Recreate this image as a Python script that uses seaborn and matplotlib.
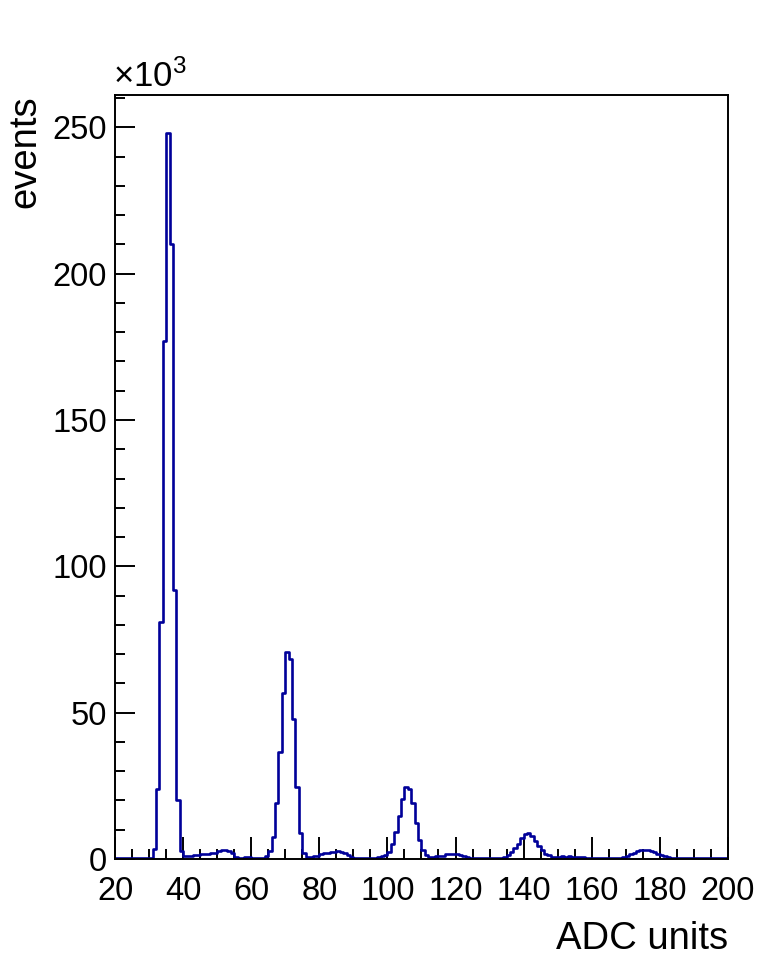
import numpy as np
import pandas as pd
import seaborn as sns
import matplotlib
matplotlib.use("Agg")
import matplotlib.pyplot as plt
from matplotlib.ticker import MultipleLocator

# histogram of ADC spectrum, 1 ADC unit per bin, counts in thousands
adc_low = 20
adc_high = 200
counts_k = [
    0.2, 0.2, 0.2, 0.2, 0.2, 0.2, 0.2, 0.2, 0.2, 0.2,          # 20-29
    0.2, 3.5, 24, 81, 177, 248, 210, 92, 20, 2.8,               # 30-39
    1.0, 1.0, 1.0, 1.4, 1.4, 1.6, 1.8, 1.8, 2.1, 2.2,           # 40-49
    2.6, 3.0, 3.1, 2.6, 1.9, 0.8, 0.5, 0.5, 0.8, 0.8,           # 50-59
    0.5, 0.5, 0.5, 0.4, 1.0, 2.7, 7.6, 19, 36.6, 56.6,          # 60-69
    70.8, 68.2, 47.8, 24.7, 8.8, 1.9, 0.8, 0.8, 1.1, 1.1,       # 70-79
    1.6, 2.2, 2.2, 2.5, 2.5, 2.8, 2.5, 1.9, 1.4, 0.8,           # 80-89
    0.45, 0.45, 0.45, 0.45, 0.45, 0.45, 0.45, 0.8, 1.0, 1.4,    # 90-99
    2.5, 5.1, 9.3, 14.7, 20.5, 24.7, 23.9, 19, 12.4, 6.5,       # 100-109
    3.1, 1.4, 0.8, 0.8, 1.0, 1.1, 1.1, 1.6, 1.6, 1.6,           # 110-119
    1.6, 1.4, 1.0, 0.6, 0.2, 0.2, 0.2, 0.2, 0.2, 0.2,           # 120-129
    0.2, 0.2, 0.2, 0.2, 0.8, 1.5, 2.5, 3.8, 5.2, 7.0,           # 130-139
    8.4, 9.0, 7.8, 6.3, 4.6, 3.0, 1.8, 1.2, 0.8, 0.8,           # 140-149
    0.8, 1.0, 0.8, 1.0, 0.7, 0.6, 0.6, 0.6, 0.2, 0.2,           # 150-159
    0.2, 0.2, 0.2, 0.2, 0.2, 0.2, 0.2, 0.2, 0.2, 0.6,           # 160-169
    1.0, 1.6, 2.2, 2.7, 2.9, 3.2, 3.2, 2.8, 2.3, 1.7,           # 170-179
    1.25, 1.0, 0.6, 0.2, 0.2, 0.2, 0.2, 0.2, 0.2, 0.2,          # 180-189
    0.2, 0.2, 0.2, 0.2, 0.2, 0.2, 0.2, 0.2, 0.2, 0.2,           # 190-199
]
x_ticks = [20, 40, 60, 80, 100, 120, 140, 160, 180, 200]
y_ticks = [0, 50, 100, 150, 200, 250]

n_bins = len(counts_k)
df = pd.DataFrame({"adc": np.arange(adc_low, adc_high) + 0.5, "events": counts_k})

sns.set_style("ticks")
plt.rcParams["font.family"] = ["Liberation Sans", "DejaVu Sans"]
plt.rcParams["mathtext.fontset"] = "custom"
plt.rcParams["mathtext.rm"] = "Liberation Sans"
plt.rcParams["mathtext.it"] = "Liberation Sans"
plt.rcParams["text.color"] = "black"
plt.rcParams["axes.labelcolor"] = "black"

fig = plt.figure(figsize=(7.67, 9.56), dpi=100)
ax = fig.add_axes([0.150, 0.1015, 0.799, 0.799])

sns.histplot(data=df, x="adc", weights="events", bins=n_bins,
             binrange=(adc_low, adc_high), element="step",
             fill=False, color="#000099", linewidth=1.9, ax=ax)

ax.set_xlim(adc_low, adc_high)
ax.set_ylim(0, 261)
ax.set_xticks(x_ticks)
ax.set_yticks(y_ticks)
ax.xaxis.set_minor_locator(MultipleLocator(5))
ax.yaxis.set_minor_locator(MultipleLocator(10))
ax.tick_params(axis="both", which="both", direction="in", top=False, right=False,
               width=1.4, labelsize=23.5, colors="black", labelcolor="black")
ax.tick_params(axis="x", which="major", length=16, pad=12)
ax.tick_params(axis="x", which="minor", length=7.5)
ax.tick_params(axis="y", which="major", length=14.5, pad=6)
ax.tick_params(axis="y", which="minor", length=7)
for s in ax.spines.values():
    s.set_linewidth(1.4)
    s.set_color("black")

ax.set_xlabel("ADC units", fontsize=27.5, loc="right", labelpad=10)
ax.set_ylabel("events", fontsize=27.5, loc="top", labelpad=6)
ax.text(-0.004, 1.002, r"$\times10^{3}$", transform=ax.transAxes,
        ha="left", va="bottom", fontsize=25)

fig.savefig("out.png", dpi=100)
